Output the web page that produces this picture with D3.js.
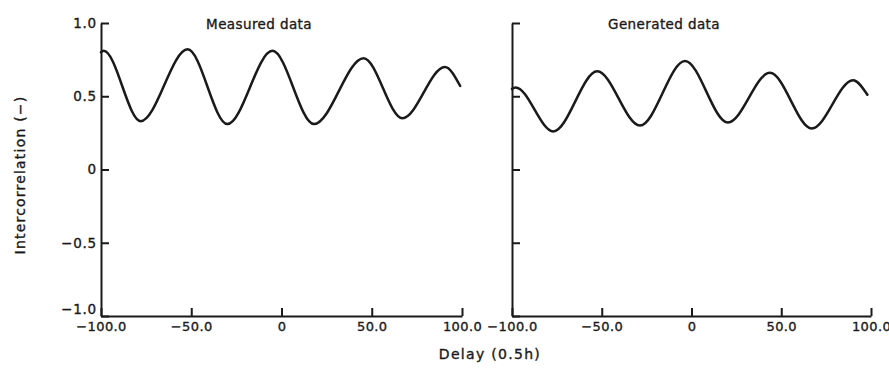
<!DOCTYPE html>
<html>
<head>
<meta charset="utf-8">
<script src="https://cdn.jsdelivr.net/npm/d3@7"></script>
<style>
  body { margin: 0; background: #fff; }
  svg { display: block; }
  text { font-family: "DejaVu Sans", sans-serif; fill: #1a1a1a; stroke: #1a1a1a; stroke-width: 0.35px; }
</style>
</head>
<body>
<svg id="chart" width="889" height="378"></svg>
<script>
// ---- data (start, peaks, troughs, end) ----
const xTicks = [-100, -50, 0, 50, 100];
const xTickLabels = ["−100.0", "−50.0", "0", "50.0", "100.0"];
const yTicks = [-1, -0.5, 0, 0.5, 1];
const yTickLabels = ["−1.0", "−0.5", "0", "0.5", "1.0"];

const measuredDelay = [-100, -98.5, -78, -52, -30, -5, 18, 45.5, 67, 90.5, 99];
const measuredValue = [0.80, 0.81, 0.33, 0.82, 0.31, 0.81, 0.31, 0.76, 0.35, 0.70, 0.57];

const generatedDelay = [-100, -98, -77, -52.5, -28.7, -3.6, 20.3, 43.7, 67, 90, 98];
const generatedValue = [0.55, 0.56, 0.26, 0.67, 0.30, 0.74, 0.32, 0.66, 0.28, 0.61, 0.51];

const panelTitles = ["Measured data", "Generated data"];
const yLabel = "Intercorrelation (−)";
const xLabel = "Delay (0.5h)";

// ---- layout ----
const svg = d3.select("#chart");
const ink = "#1a1a1a";
const plotTop = 23, plotBottom = 316;
const panels = [
  { x0: 101, x1: 462, delay: measuredDelay, value: measuredValue, title: panelTitles[0], yLabels: true, titleX: 259 },
  { x0: 512, x1: 871, delay: generatedDelay, value: generatedValue, title: panelTitles[1], yLabels: false, titleX: 664 }
];

const y = d3.scaleLinear().domain([-1, 1]).range([plotBottom, plotTop]);

panels.forEach(p => {
  const x = d3.scaleLinear().domain([-100, 100]).range([p.x0, p.x1]);
  const g = svg.append("g");

  // y axis
  const yAxis = d3.axisLeft(y).tickValues(yTicks).tickSize(-8).tickSizeOuter(0).tickPadding(4)
    .tickFormat((d, i) => p.yLabels ? yTickLabels[i] : "");
  const ya = g.append("g").attr("transform", `translate(${p.x0},0)`).call(yAxis);
  ya.selectAll("path, line").attr("stroke", ink).attr("stroke-width", 2);
  ya.selectAll("text").attr("font-size", 13.5).attr("fill", ink).style("letter-spacing", "0.8px").attr("font-family", "DejaVu Sans");
  ya.selectAll(".tick text").filter(d => d === -1).attr("dy", "-0.15em");

  // x axis
  const xAxis = d3.axisBottom(x).tickValues(xTicks).tickSize(-8).tickSizeOuter(0).tickPadding(6)
    .tickFormat((d, i) => xTickLabels[i]);
  const xa = g.append("g").attr("transform", `translate(0,${plotBottom})`).call(xAxis);
  xa.selectAll("path, line").attr("stroke", ink).attr("stroke-width", 2);
  xa.selectAll("text").attr("font-size", 13).attr("fill", ink).style("letter-spacing", "0.4px").attr("font-family", "DejaVu Sans");

  // curve
  const pts = p.delay.map((d, i) => [d, p.value[i]]);
  const line = d3.line().x(d => x(d[0])).y(d => y(d[1])).curve(d3.curveMonotoneX);
  g.append("path").datum(pts).attr("d", line)
    .attr("fill", "none").attr("stroke", ink).attr("stroke-width", 2.5)
    .attr("stroke-linejoin", "round").attr("stroke-linecap", "round");

  // title
  g.append("text").attr("x", p.titleX).attr("y", 29)
    .attr("text-anchor", "middle").attr("font-size", 13.5).style("letter-spacing", "0.4px")
    .text(p.title);
});

// axis labels
svg.append("text").attr("transform", "translate(25,175) rotate(-90)")
  .attr("text-anchor", "middle").attr("font-size", 14).style("letter-spacing", "1.2px").text(yLabel);
svg.append("text").attr("x", 490).attr("y", 359)
  .attr("text-anchor", "middle").attr("font-size", 14).style("letter-spacing", "1.3px").text(xLabel);
</script>
</body>
</html>
